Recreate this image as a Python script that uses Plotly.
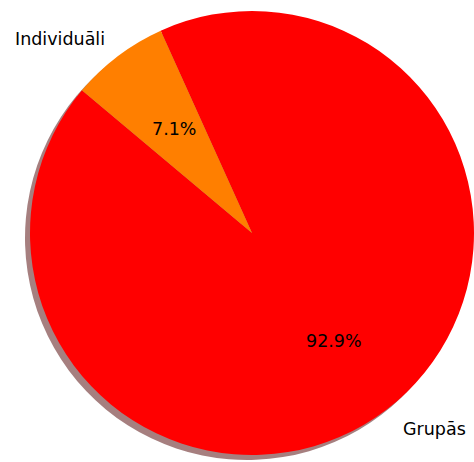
import math
import plotly.graph_objects as go

# ---- data ----
labels = ["Grupās", "Individuāli"]
values = [13, 1]
colors = ["#ff0000", "#ff7f00"]
shadow_colors = ["rgba(77,0,0,0.5)", "rgba(77,38,0,0.5)"]
start_angle = 140  # degrees, math convention, counterclockwise

# ---- layout (pixels) ----
W, H = 474, 462
cx, cy, r = 252, 233, 222
sh_dx, sh_dy = -5, 5
FONT = "DejaVu Sans"
FS = 17.5

total = sum(values)
# plotly (counterclockwise) places the END of the first slice at `rotation` (clockwise from 12 o'clock)
first_end = start_angle + 360.0 * values[0] / total
rot = (90 - first_end) % 360
if rot > 180:
    rot -= 360


def dom(cx_, cy_):
    return dict(x=[(cx_ - r) / W, (cx_ + r) / W],
                y=[1 - (cy_ + r) / H, 1 - (cy_ - r) / H])


fig = go.Figure()
fig.add_trace(go.Pie(labels=labels, values=values, sort=False, direction="counterclockwise",
                     rotation=rot, marker=dict(colors=shadow_colors, line=dict(width=0)),
                     textinfo="none", hoverinfo="skip", showlegend=False,
                     domain=dom(cx + sh_dx, cy + sh_dy)))
fig.add_trace(go.Pie(labels=labels, values=values, sort=False, direction="counterclockwise",
                     rotation=rot, marker=dict(colors=colors, line=dict(width=0)),
                     textinfo="none", showlegend=False, domain=dom(cx, cy)))

ang = start_angle
annotations = []
for lab, v in zip(labels, values):
    span = 360.0 * v / total
    mid = math.radians(ang + span / 2)
    ang += span
    c, s = math.cos(mid), math.sin(mid)
    lx, ly = cx + 1.1 * r * c, cy - 1.1 * r * s
    annotations.append(dict(x=lx / W, y=1 - ly / H, xref="paper", yref="paper", text=lab,
                            showarrow=False, xanchor="right" if c < 0 else "left", yanchor="middle",
                            xshift=2, yshift=-1,
                            font=dict(family=FONT, size=FS, color="black")))
    px, py = cx + 0.6 * r * c, cy - 0.6 * r * s
    annotations.append(dict(x=px / W, y=1 - py / H, xref="paper", yref="paper",
                            text="%.1f%%" % (100.0 * v / total),
                            showarrow=False, xanchor="center", yanchor="middle",
                            xshift=2, yshift=-2,
                            font=dict(family=FONT, size=FS, color="black")))

fig.update_layout(width=W, height=H, margin=dict(l=0, r=0, t=0, b=0),
                  paper_bgcolor="white", plot_bgcolor="white",
                  annotations=annotations, showlegend=False)
fig.write_html("out.html", config={"displayModeBar": False},
               post_script="document.body.style.margin='0';document.body.style.overflow='hidden';")
